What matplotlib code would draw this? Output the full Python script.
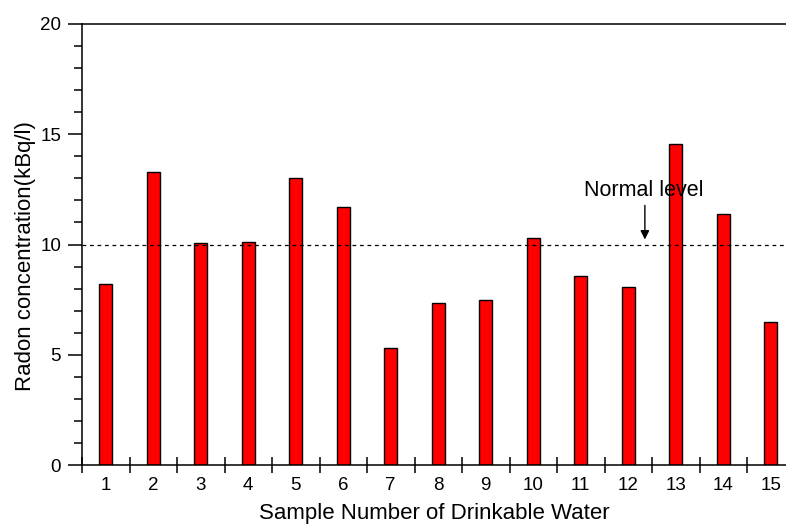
import numpy as np
import matplotlib.pyplot as plt
from matplotlib.ticker import MultipleLocator

plt.rcParams['font.family'] = ['Liberation Sans', 'DejaVu Sans']

samples = np.arange(1, 16)
radon = [8.2, 13.3, 10.05, 10.1, 13.0, 11.7, 5.3, 7.35, 7.5, 10.3, 8.55, 8.05, 14.55, 11.4, 6.5]
normal_level = 10

fig = plt.figure(figsize=(7.86, 5.29), dpi=100)
ax = fig.add_axes([82 / 786, 64 / 529, 1 - 82 / 786, (465 - 24) / 529])

ax.bar(samples, radon, width=0.27, color='#ff0000', edgecolor='black', linewidth=1.0, zorder=2)
ax.axhline(normal_level, color='black', linestyle=(0, (3, 3)), linewidth=0.9, zorder=3)
ax.annotate('', xy=(12.35, 10.1), xytext=(12.35, 11.9),
            arrowprops=dict(arrowstyle='-|>', color='black', lw=1.0, mutation_scale=13))
ax.text(12.33, 12.45, 'Normal level', ha='center', va='center', fontsize=15.5)

ax.set_xlim(0.5, 0.5 + (786 - 82) / 47.5)
ax.set_ylim(0, 20)
ax.set_xticks(samples)
ax.set_xticklabels([str(s) for s in samples])
ax.xaxis.set_minor_locator(MultipleLocator(1, offset=0.5))
ax.tick_params(axis='x', which='major', length=0, pad=9, labelsize=13.5)
ax.tick_params(axis='x', which='minor', direction='inout', length=12, width=1.1)
ax.yaxis.set_major_locator(MultipleLocator(5))
ax.yaxis.set_minor_locator(MultipleLocator(1))
ax.tick_params(axis='y', which='major', direction='out', length=10, width=1.1, labelsize=13.5, pad=5)
ax.tick_params(axis='y', which='minor', direction='out', length=6, width=1.1)

ax.spines['right'].set_visible(False)
for s in ['left', 'top', 'bottom']:
    ax.spines[s].set_linewidth(1.1)

ax.set_xlabel('Sample Number of Drinkable Water', fontsize=16, labelpad=6)
ax.set_ylabel('Radon concentration(kBq/l)', fontsize=16)
ax.yaxis.set_label_coords(-0.066, 0.474)

plt.savefig('out.png', dpi=100)
